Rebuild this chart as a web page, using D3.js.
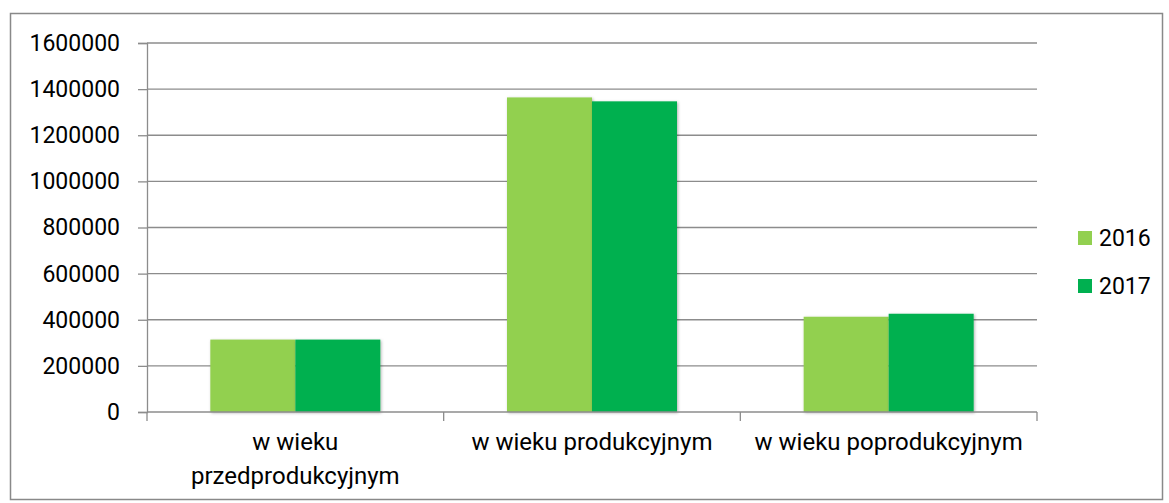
<!DOCTYPE html>
<html>
<head>
<meta charset="utf-8">
<script src="https://cdn.jsdelivr.net/npm/d3@7"></script>
<style>
  body { margin: 0; background: #fff; }
  text { font-family: "Roboto", "Open Sans", sans-serif; fill: #000; }
</style>
</head>
<body>
<svg id="chart" width="1169" height="503"></svg>
<script>
'use strict'

// dane z wykresu
var kategorie = [['w wieku', 'przedprodukcyjnym'], ['w wieku produkcyjnym'], ['w wieku poprodukcyjnym']];
var lata = ['2016', '2017'];
var wartosci2016 = [314000, 1364000, 413000];
var wartosci2017 = [314000, 1347000, 426000];
var tickiY = [0, 200000, 400000, 600000, 800000, 1000000, 1200000, 1400000, 1600000];
var kolory = ['#92D050', '#00B050'];

var svg = d3.select('#chart');

// ramka wykresu
svg.append('rect')
  .attr('x', 10.5).attr('y', 13.5)
  .attr('width', 1152).attr('height', 486)
  .attr('fill', 'none').attr('stroke', '#898989').attr('stroke-width', 1.5);

var margin = { left: 147, right: 1037, top: 43, bottom: 412 };

var x = d3.scaleBand()
  .domain(kategorie.map(function (d, i) { return i; }))
  .range([margin.left, margin.right])
  .paddingInner(0).paddingOuter(0);

var xSeria = d3.scaleBand().domain(lata).range([0, 170]);
var offset = (x.bandwidth() - 170) / 2;

var y = d3.scaleLinear().domain([0, 1600000]).range([margin.bottom, margin.top]);

// linie siatki
svg.append('g')
  .selectAll('line')
  .data(tickiY.slice(1))
  .enter().append('line')
  .attr('x1', margin.left).attr('x2', margin.right)
  .attr('y1', function (d) { return y(d); })
  .attr('y2', function (d) { return y(d); })
  .attr('stroke', '#8c8c8c').attr('stroke-width', 1.3);

// cien pod slupkami
var defs = svg.append('defs');
var f = defs.append('filter').attr('id', 'cien').attr('x', '-10%').attr('y', '-10%').attr('width', '120%').attr('height', '120%');
f.append('feDropShadow').attr('dx', 1).attr('dy', 1).attr('stdDeviation', 1.5).attr('flood-color', '#000').attr('flood-opacity', 0.3);

var serie = [wartosci2016, wartosci2017];
serie.forEach(function (wart, s) {
  svg.append('g')
    .selectAll('rect')
    .data(wart)
    .enter().append('rect')
    .attr('x', function (d, i) { return x(i) + offset + xSeria(lata[s]); })
    .attr('y', function (d) { return y(d); })
    .attr('width', xSeria.bandwidth())
    .attr('height', function (d) { return y(0) - y(d); })
    .attr('fill', kolory[s])
    .attr('filter', 'url(#cien)');
});

// os Y
var osY = svg.append('g')
  .attr('transform', 'translate(' + margin.left + ',0)')
  .call(d3.axisLeft(y).tickValues(tickiY).tickSize(9).tickPadding(18).tickFormat(d3.format('d')));
osY.select('.domain').attr('stroke', '#8c8c8c').attr('stroke-width', 1.3);
osY.selectAll('.tick line').attr('stroke', '#8c8c8c').attr('stroke-width', 1.3);
osY.selectAll('text').style('font-size', '23px').attr('fill', '#000');

// os X
var osX = svg.append('g')
  .attr('transform', 'translate(0,' + margin.bottom + ')');
osX.append('line')
  .attr('x1', margin.left).attr('x2', margin.right)
  .attr('stroke', '#8c8c8c').attr('stroke-width', 1.3);
osX.selectAll('line.tick')
  .data(d3.range(kategorie.length + 1))
  .enter().append('line')
  .attr('class', 'tick')
  .attr('x1', function (d) { return margin.left + d * x.bandwidth(); })
  .attr('x2', function (d) { return margin.left + d * x.bandwidth(); })
  .attr('y1', 0).attr('y2', 9)
  .attr('stroke', '#8c8c8c').attr('stroke-width', 1.3);

kategorie.forEach(function (linie, i) {
  var t = osX.append('text')
    .attr('x', x(i) + x.bandwidth() / 2)
    .attr('y', 38)
    .attr('text-anchor', 'middle')
    .style('font-size', '24px');
  linie.forEach(function (l, j) {
    t.append('tspan')
      .attr('x', x(i) + x.bandwidth() / 2)
      .attr('dy', j === 0 ? 0 : 34)
      .text(l);
  });
});

// legenda
var legenda = svg.append('g');
lata.forEach(function (rok, i) {
  legenda.append('rect')
    .attr('x', 1078).attr('y', 231 + i * 48)
    .attr('width', 14).attr('height', 14)
    .attr('fill', kolory[i]);
  legenda.append('text')
    .attr('x', 1099).attr('y', 246 + i * 48)
    .style('font-size', '23px')
    .text(rok);
});
</script>
</body>
</html>
